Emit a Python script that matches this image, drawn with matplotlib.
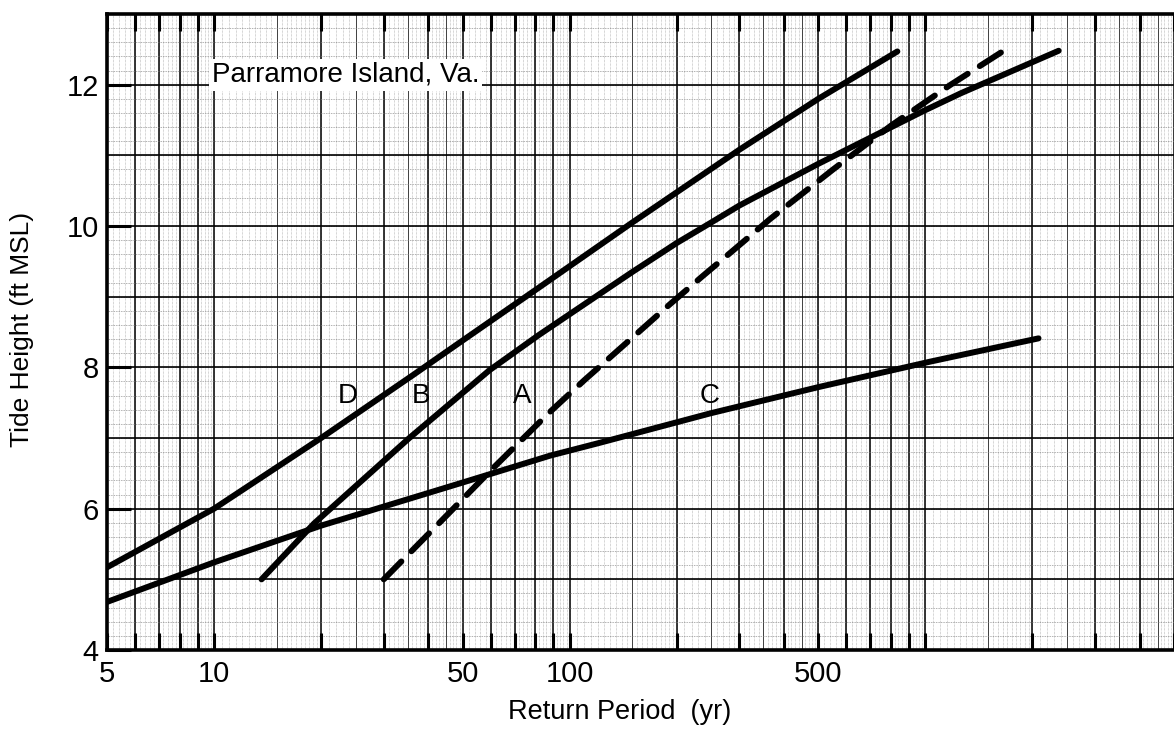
import numpy as np
import matplotlib
matplotlib.use("Agg")
import matplotlib.pyplot as plt
from matplotlib.ticker import FixedLocator, NullFormatter, NullLocator, FuncFormatter

plt.rcParams['font.family'] = ['Liberation Sans', 'DejaVu Sans']

# return period (yr) and tide height (ft MSL)
period_d = [5, 10, 20, 36, 50, 82, 150, 300, 500, 834]
height_d = [5.17, 6.0, 7.0, 7.88, 8.38, 9.13, 10.05, 11.08, 11.8, 12.47]

period_b = [13.6, 19.1, 35.4, 59.5, 82, 150, 200, 250, 300, 500, 990, 1260, 2370]
height_b = [5.0, 5.79, 7.0, 7.96, 8.46, 9.35, 9.76, 10.05, 10.29, 10.88, 11.63, 11.88, 12.48]

period_a = [30, 45, 60.5, 87.6, 110, 150, 190, 235, 292, 366, 550, 800, 1170, 1660]
height_a = [5.0, 5.9, 6.56, 7.36, 7.82, 8.42, 8.88, 9.28, 9.68, 10.1, 10.8, 11.42, 11.99, 12.48]

period_c = [5, 10, 20, 50, 88, 121, 249, 500, 1030, 2080]
height_c = [4.68, 5.24, 5.76, 6.37, 6.75, 6.93, 7.35, 7.72, 8.08, 8.41]

x_ticks = [5, 10, 50, 100, 500]
x_tick_labels = ['5', '10', '50', '100', '500']
y_ticks = [4, 6, 8, 10, 12]

fig = plt.figure(figsize=(11.74, 7.33), dpi=100)
ax = fig.add_axes([107 / 1174, 1 - 650 / 733, 1 - 107 / 1174, 636 / 733])
ax.set_xscale('log')
ax.set_xlim(5, 5000)
ax.set_ylim(4, 13)

# log graph paper
decades = [1, 10, 100, 1000]
fine_x, half_x, heavy_x = [], [], []
for dec in decades:
    for lo, hi, step in [(1, 2, 0.05), (2, 5, 0.1), (5, 10, 0.2)]:
        for v in np.arange(lo, hi, step):
            fine_x.append(v * dec)
    for v in [1.5, 2.5, 3.5, 4.5]:
        half_x.append(v * dec)
    for k in range(1, 10):
        heavy_x.append(k * dec)
fine_x = [v for v in fine_x if 5 <= v <= 5000]
half_x = [v for v in half_x if 5 <= v <= 5000]
heavy_x = [v for v in heavy_x if 5 <= v <= 5000]

xt = ax.get_xaxis_transform()
yt = ax.get_yaxis_transform()
ax.vlines(fine_x, 0, 1, transform=xt, colors='0.6', lw=0.45, linestyles=(0, (1, 1.2)), zorder=1)
ax.vlines(half_x, 0, 1, transform=xt, colors='0.25', lw=0.7, zorder=1)
ax.vlines(heavy_x, 0, 1, transform=xt, colors='black', lw=1.1, zorder=1)

ax.hlines(np.arange(4, 13.01, 0.2), 0, 1, transform=yt, colors='0.5', lw=0.55,
          linestyles=(0, (1, 1.2)), zorder=1)
ax.hlines(np.arange(4, 14), 0, 1, transform=yt, colors='black', lw=1.2, zorder=1)

# curves
ax.plot(period_d, height_d, color='black', lw=4.3, solid_capstyle='round', zorder=3)
ax.plot(period_b, height_b, color='black', lw=4.3, solid_capstyle='round', zorder=3)
ax.plot(period_c, height_c, color='black', lw=4.3, solid_capstyle='round', zorder=3)
ax.plot(period_a, height_a, color='black', lw=4.3, linestyle=(0, (4.2, 2.4)),
        dash_capstyle='round', zorder=3)

for lab, xp in [('D', 23.7), ('B', 38.3), ('A', 73.3), ('C', 248)]:
    ax.text(xp, 7.6, lab, fontsize=20, ha='center', va='center', zorder=4)

ax.text(9.85, 12.14, 'Parramore Island, Va.', fontsize=20, ha='left', va='center',
        bbox=dict(facecolor='white', edgecolor='none', pad=2), zorder=4)

# spines and ticks
for side in ['left', 'bottom', 'top']:
    ax.spines[side].set_linewidth(2.6)
ax.spines['right'].set_visible(False)

ax.xaxis.set_major_locator(FixedLocator(heavy_x))
ax.xaxis.set_major_formatter(FuncFormatter(
    lambda v, p: x_tick_labels[x_ticks.index(int(round(v)))] if int(round(v)) in x_ticks else ''))
ax.xaxis.set_minor_locator(FixedLocator([10, 100, 1000]))
ax.xaxis.set_minor_formatter(NullFormatter())
ax.tick_params(axis='x', which='major', direction='in', length=12, width=2.2, top=True,
               labelsize=21, pad=7)
ax.tick_params(axis='x', which='minor', direction='in', length=28, width=2.5, top=True)

ax.set_yticks(y_ticks)
ax.yaxis.set_minor_locator(NullLocator())
ax.tick_params(axis='y', direction='in', length=17, width=2.2, labelsize=21, pad=6)

fig.text(0.528, 0.029, 'Return Period  (yr)', fontsize=19.5, ha='center', va='center')
fig.text(22 / 1174, 0.55, 'Tide Height (ft MSL)', fontsize=19, rotation=90,
         ha='center', va='center')

fig.savefig('out.png', dpi=100)
